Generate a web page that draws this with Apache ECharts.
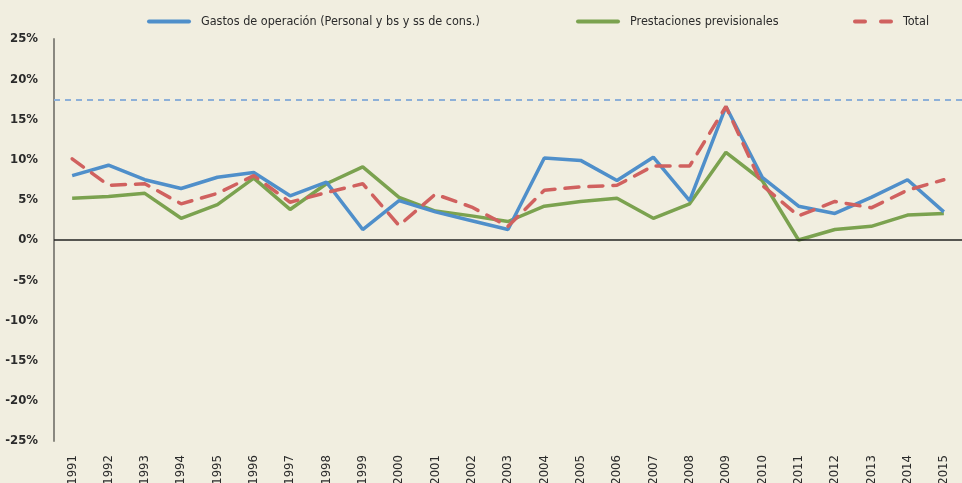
<!DOCTYPE html>
<html>
<head>
<meta charset="utf-8">
<script src="https://cdn.jsdelivr.net/npm/echarts@6/dist/echarts.min.js"></script>
<style>
  html, body { margin: 0; padding: 0; background: #f1eee0; }
  #chart { width: 962px; height: 483px; }
</style>
</head>
<body>
<div id="chart"></div>
<script>
// Annual growth rates (%), 1991-2015
const years = ['1991','1992','1993','1994','1995','1996','1997','1998','1999','2000','2001','2002','2003','2004','2005','2006','2007','2008','2009','2010','2011','2012','2013','2014','2015'];
const gastosOperacion = [8.0, 9.3, 7.5, 6.4, 7.8, 8.4, 5.5, 7.2, 1.3, 4.9, 3.5, 2.4, 1.3, 10.2, 9.9, 7.4, 10.3, 4.9, 16.6, 7.8, 4.2, 3.3, 5.3, 7.5, 3.5];
const prestaciones = [5.2, 5.4, 5.8, 2.7, 4.4, 7.7, 3.8, 7.0, 9.1, 5.3, 3.6, 3.0, 2.3, 4.2, 4.8, 5.2, 2.7, 4.5, 10.9, 7.4, 0.0, 1.3, 1.7, 3.1, 3.3];
const total = [10.1, 6.8, 7.0, 4.5, 5.8, 8.0, 4.7, 5.9, 7.0, 1.8, 5.7, 4.1, 1.7, 6.2, 6.6, 6.8, 9.2, 9.2, 16.6, 6.8, 3.0, 4.8, 4.0, 6.2, 7.5];
const referenceLevel = 17.5;
const yTicks = { min: -25, max: 25, step: 5 };

const names = ['Gastos de operación (Personal y bs y ss de cons.)', 'Prestaciones previsionales', 'Total'];
const colors = ['#4f8fca', '#7ba24f', '#d0615f'];
const font = '"Liberation Sans Narrow", "DejaVu Sans Condensed", sans-serif';

// legend keys: a solid bar for the two component series, two dashes for the total
const solidKey = 'path://M2,0h40a2,2 0 0 1 0,4h-40a2,2 0 0 1 0,-4z';
const dashedKey = 'path://M2,0h10a2,2 0 0 1 0,4h-10a2,2 0 0 1 0,-4z M28,0h10a2,2 0 0 1 0,4h-10a2,2 0 0 1 0,-4z';

const chart = echarts.init(document.getElementById('chart'), null, { renderer: 'canvas' });

function legendFor(i, left, width, icon) {
  return {
    data: [{ name: names[i], icon: icon }],
    left: left,
    top: 15,
    padding: 0,
    itemWidth: width,
    itemHeight: 4,
    itemStyle: { color: colors[i] },
    textStyle: { fontFamily: font, fontSize: 12.5, color: '#2b2b2b', padding: [0, 0, 0, 5] },
    selectedMode: false
  };
}

chart.setOption({
  backgroundColor: '#f1eee0',
  animation: false,
  legend: [
    legendFor(0, 147, 44, solidKey),
    legendFor(1, 576, 44, solidKey),
    legendFor(2, 853, 40, dashedKey)
  ],
  grid: { left: 54, right: 0, top: 39, bottom: 42, outerBoundsMode: 'none', containLabel: false },
  xAxis: {
    type: 'category',
    data: years,
    boundaryGap: true,
    axisLine: { show: false },
    axisTick: { show: false },
    axisLabel: {
      rotate: 90,
      margin: 14,
      fontFamily: font,
      fontSize: 13,
      color: '#2b2b2b'
    }
  },
  yAxis: {
    type: 'value',
    min: yTicks.min,
    max: yTicks.max,
    interval: yTicks.step,
    axisLine: { show: true, lineStyle: { color: '#8a8880', width: 2 } },
    axisTick: { show: false },
    splitLine: { show: false },
    axisLabel: {
      formatter: '{value}%',
      margin: 16,
      fontFamily: font,
      fontSize: 13,
      fontWeight: 'bold',
      color: '#2b2b2b'
    }
  },
  series: [
    {
      name: names[0],
      type: 'line',
      data: gastosOperacion,
      symbol: 'none',
      color: colors[0],
      lineStyle: { width: 3.5, color: colors[0] },
      z: 3,
      markLine: {
        silent: true,
        symbol: 'none',
        label: { show: false },
        data: [
          { yAxis: 0, lineStyle: { color: '#222222', width: 1.5, type: 'solid' } },
          { yAxis: referenceLevel, lineStyle: { color: '#8db0d8', width: 2, type: [6, 5] } }
        ]
      }
    },
    {
      name: names[1],
      type: 'line',
      data: prestaciones,
      symbol: 'none',
      color: colors[1],
      lineStyle: { width: 3.5, color: colors[1] },
      z: 2
    },
    {
      name: names[2],
      type: 'line',
      data: total,
      symbol: 'none',
      color: colors[2],
      lineStyle: { width: 3.5, color: colors[2], type: [14, 10], cap: 'round' },
      z: 4
    }
  ]
});
</script>
</body>
</html>
